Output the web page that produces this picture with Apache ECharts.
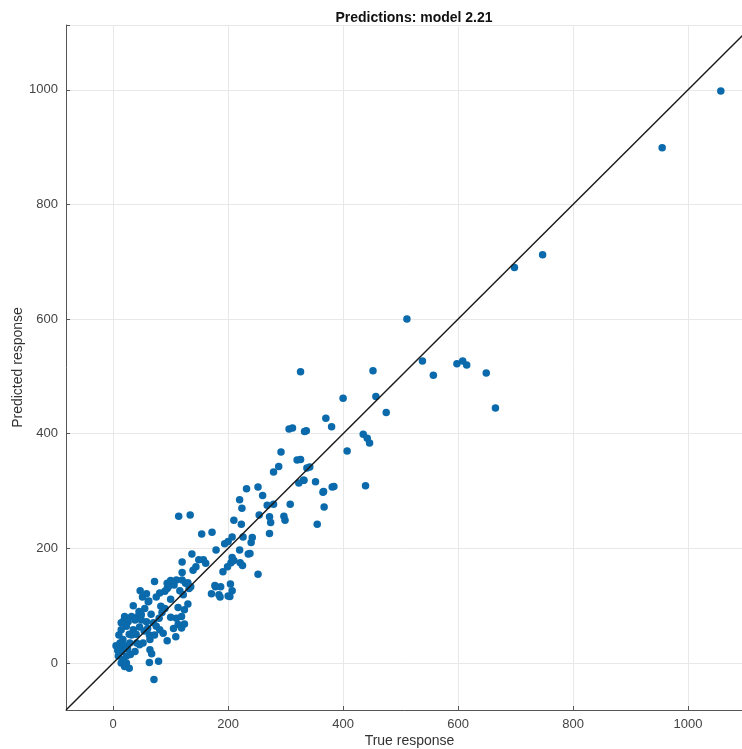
<!DOCTYPE html>
<html>
<head>
<meta charset="utf-8">
<script src="https://cdn.jsdelivr.net/npm/echarts@6/dist/echarts.min.js"></script>
<style>
html,body{margin:0;padding:0;background:#fff;}
#chart{width:742px;height:749px;}
</style>
</head>
<body>
<div id="chart"></div>
<script>
// True response (x) and predicted response (y) pairs
const trueResponse = [
  1057,955,747,698,511,
  538,598,608,615,557,649,665,
  452,457,475,400,370,380,326,
  336,306,312,333,292,320,337,279,288,
  326,342,331,323,332,352,366,384,365,381,
  407,435,442,446,439,367,355,
  232,252,260,220,224,308,268,279,254,272,274,297,299,210,223,272,
  114,134,154,172,179,194,200,207,226,242,240,220,235,221,225,252,
  137,120,149,157,144,120,191,199,205,178,187,204,171,184,200,120,126,132,
  207,210,238,161,139,130,135,186,203,177,207,
  116,122,106,100,110,72,47,51,62,81,75,83,94,94,100,113,110,119,113,109,124,130,124,119,94,
  20,32,43,49,19,26,14,38,49,58,70,80,10,14,23,35,46,54,63,72,81,75,87,52,64,46,17,32,9,14,20,29,41,38,9,17,23,14,23,20,28,64,67,63,79,71,
  96,90,61,58,25,30,12,60,66,90,100,55,40,28,105,85,45,35,8,5
];
const predictedResponse = [
  998,899,712,690,600,
  527,522,527,520,502,506,445,
  510,465,437,462,427,412,508,
  405,408,410,404,368,354,340,333,343,
  355,342,319,314,319,316,299,308,298,307,
  370,399,392,384,309,272,242,
  304,307,292,285,270,277,275,277,258,255,245,256,249,249,242,226,
  256,258,225,228,197,208,212,220,220,219,210,197,190,175,170,155,
  190,176,180,180,168,158,159,168,175,133,133,138,121,119,117,145,139,130,
  126,179,191,174,162,140,133,115,116,135,184,
  126,119,136,144,145,142,126,115,108,122,115,99,139,130,111,97,78,81,67,46,93,103,68,61,39,
  81,81,81,84,75,72,70,75,75,72,70,78,49,58,64,58,63,56,49,49,58,64,52,35,41,32,41,49,29,20,30,35,35,20,12,6,12,0,0,-6,-9,23,16,1,3,-29,
  133,125,107,121,25,15,35,60,85,95,80,95,50,50,60,88,90,100,22,30
];
const axisMin = -82;
const axisMax = 1113;
const refLine = [[-82,-82],[1113,1113]];
const titleText = 'Predictions: model 2.21';
const xName = 'True response';
const yName = 'Predicted response';

const points = trueResponse.map((x, i) => [x, predictedResponse[i]]);

const chart = echarts.init(document.getElementById('chart'), null, {renderer: 'canvas'});
const axisCommon = {
  type: 'value',
  min: axisMin,
  max: axisMax,
  splitNumber: 5,
  nameLocation: 'middle',
  nameMoveOverlap: false,
  nameTextStyle: {fontFamily: 'Liberation Sans, Arial, sans-serif', fontSize: 14, color: '#333'},
  axisLine: {show: true, onZero: false, lineStyle: {color: '#555', width: 1}},
  axisTick: {show: true, inside: true, length: 4, lineStyle: {color: '#555'}},
  axisLabel: {
    fontFamily: 'Liberation Sans, Arial, sans-serif', fontSize: 13, color: '#444',
    formatter: v => (v % 200 === 0 ? String(v) : '')
  },
  splitLine: {show: true, lineStyle: {color: '#e8e8e8', width: 1}}
};
chart.setOption({
  animation: false,
  backgroundColor: '#fff',
  title: {
    text: titleText,
    left: 409,
    top: 6,
    textAlign: 'center',
    textStyle: {fontFamily: 'Liberation Sans, Arial, sans-serif', fontSize: 14, fontWeight: 'bold', color: '#111'}
  },
  grid: {left: 66, top: 25, right: -11, bottom: 39, containLabel: false, outerBoundsMode: 'none'},
  xAxis: Object.assign({}, axisCommon, {name: xName, nameGap: 24}),
  yAxis: Object.assign({}, axisCommon, {name: yName, nameGap: 41}),
  series: [
    {
      type: 'scatter',
      data: points,
      symbolSize: 7.5,
      itemStyle: {color: '#0a6aab', opacity: 1},
      z: 2
    },
    {
      type: 'line',
      data: refLine,
      symbol: 'none',
      lineStyle: {color: '#1a1a1a', width: 1.5},
      z: 3
    }
  ]
});
</script>
</body>
</html>
